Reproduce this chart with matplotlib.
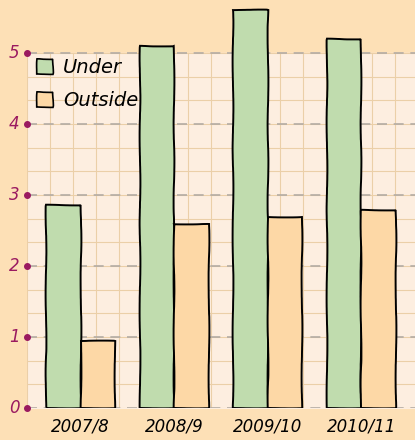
import numpy as np
import matplotlib.pyplot as plt
from matplotlib.patches import Patch

seasons = ['2007/8', '2008/9', '2009/10', '2010/11']
under = [2.86, 5.10, 5.60, 5.20]
outside = [0.95, 2.59, 2.69, 2.79]
yticks = [0, 1, 2, 3, 4, 5]

green = '#c0dcae'
peach = '#fdd8a6'
outer_bg = '#fde0b6'
inner_bg = '#fdeee0'
tick_col = '#9a1a60'

fig = plt.figure(figsize=(4.15, 4.4), dpi=100, facecolor=outer_bg)
ax = fig.add_axes([0.065, 0.0727, 0.935, 0.9273])
ax.set_facecolor(outer_bg)

x = np.arange(len(seasons))
w = 0.37
x0, x1 = -0.575, 3.575
ax.set_xlim(x0, x1)
ax.set_ylim(0, 5.746)

# paper square grid, only up to 5
ax.fill_between([x0, x1], 0, 5, color=inner_bg, zorder=0)
for gx in np.arange(x0, x1, 0.246):
    ax.plot([gx, gx], [0, 5], color='#ebcfa8', lw=0.8, zorder=0.5)
for gy in np.arange(0, 5.01, 1 / 3):
    ax.plot([x0, x1], [gy, gy], color='#ebcfa8', lw=0.8, zorder=0.5)
for t in yticks:
    ax.plot([x0, x1], [t, t], color='#b3aca4', lw=1.2, ls=(0, (6, 4)), zorder=0.6)

# hand drawn bars
b1 = ax.bar(x - w / 2, under, w, color=green, edgecolor='black', lw=1.4, zorder=2)
b2 = ax.bar(x + w / 2, outside, w, color=peach, edgecolor='black', lw=1.4, zorder=2)
for p in list(b1) + list(b2):
    p.set_sketch_params(scale=0.4, length=120, randomness=4)

# y ticks: dot on the axis + purple number
ax.plot([x0] * len(yticks), yticks, 'o', color=tick_col, ms=4, clip_on=False, zorder=3)
for t in yticks:
    ax.text(x0 - 0.08, t, str(t), color=tick_col, fontsize=12, style='italic',
            ha='right', va='center')
ax.set_yticks([])
ax.set_xticks(x)
ax.set_xticklabels(seasons, fontsize=12, style='italic')
ax.tick_params(axis='x', length=0, pad=7)
for s in ax.spines.values():
    s.set_visible(False)

handles = [Patch(facecolor=green, edgecolor='black', lw=1.2),
           Patch(facecolor=peach, edgecolor='black', lw=1.2)]
leg = ax.legend(handles, ['Under', 'Outside'], loc='upper left',
                bbox_to_anchor=(-0.018, 0.90), frameon=False,
                prop={'size': 14, 'style': 'italic'}, handlelength=0.8,
                handleheight=0.8, handletextpad=0.5, labelspacing=0.7)
for p in leg.get_patches():
    p.set_sketch_params(scale=0.4, length=60, randomness=4)

fig.savefig('out.png', dpi=100, facecolor=outer_bg)
